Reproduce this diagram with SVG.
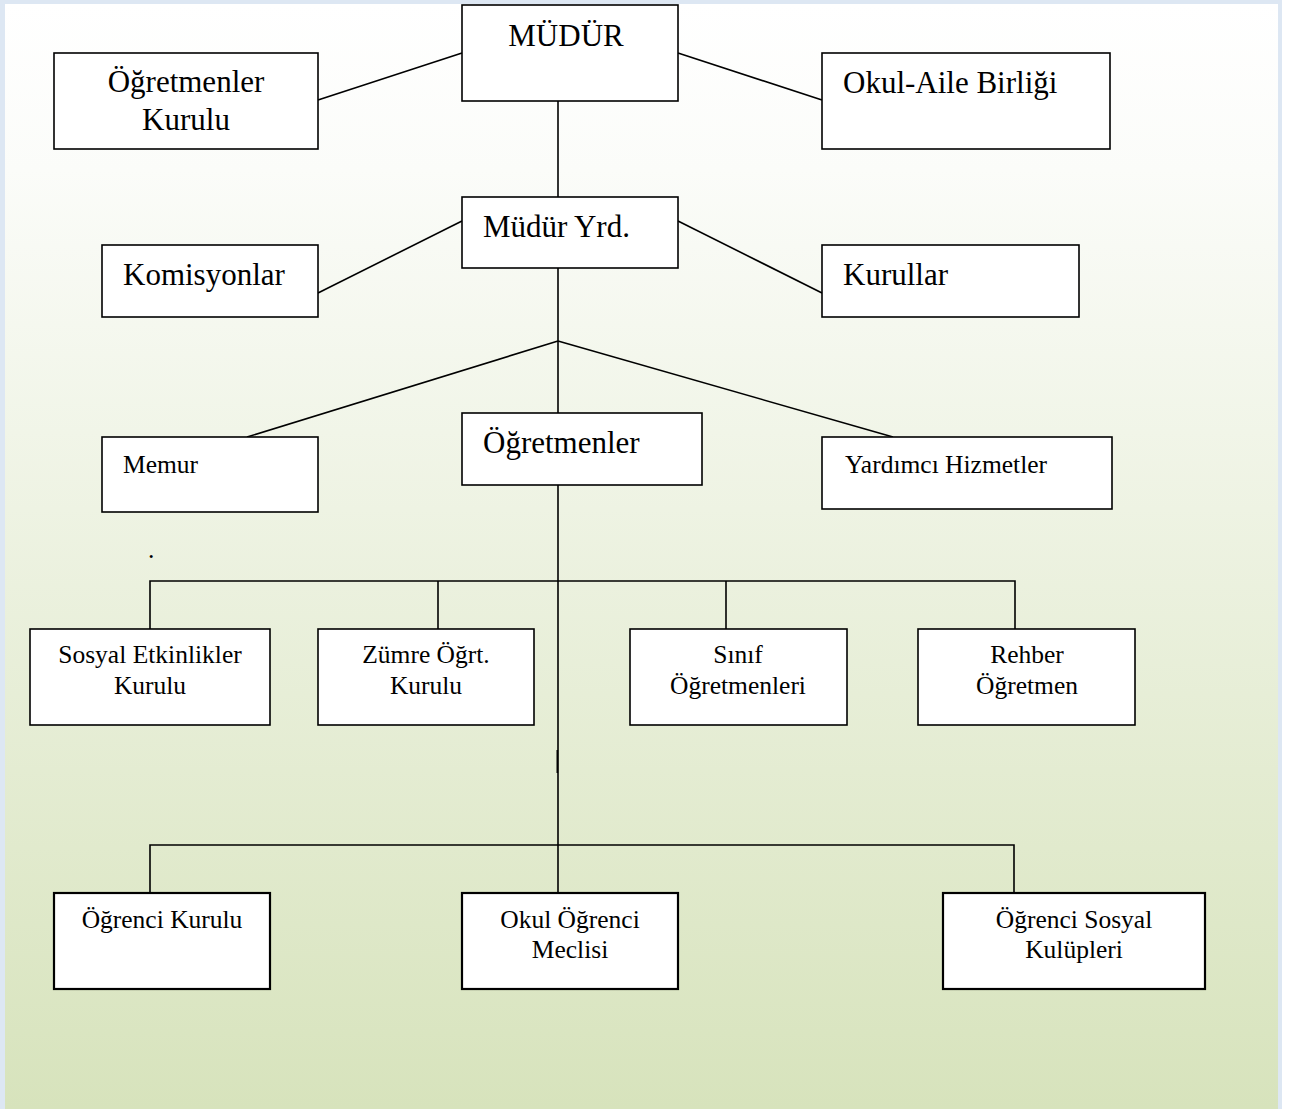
<svg xmlns="http://www.w3.org/2000/svg" width="1289" height="1109" viewBox="0 0 1289 1109">
  <defs>
    <linearGradient id="bg" x1="0" y1="0" x2="0" y2="1">
      <stop offset="0" stop-color="#ffffff"/>
      <stop offset="0.15" stop-color="#fbfcf9"/>
      <stop offset="1" stop-color="#d7e3bc"/>
    </linearGradient>
    <style>
      .box { fill: #ffffff; stroke: #000000; stroke-width: 1.6; }
      .box2 { fill: #ffffff; stroke: #000000; stroke-width: 2.2; }
      .con { stroke: #000000; stroke-width: 1.6; fill: none; }
      .big { font-family: "Liberation Serif", "Times New Roman", serif; font-size: 31px; fill: #000000; }
      .sm { font-family: "Liberation Serif", "Times New Roman", serif; font-size: 25.5px; fill: #000000; }
      .mid { text-anchor: middle; }
    </style>
  </defs>

  <rect x="0" y="0" width="1289" height="1109" fill="#ffffff"/>
  <rect x="0" y="0" width="1282" height="1109" fill="#dde7f3"/>
  <rect x="5" y="4" width="1273" height="1105" fill="url(#bg)"/>

  <g id="connectors">
    <line class="con" x1="462" y1="53" x2="318" y2="100"/>
    <line class="con" x1="678" y1="53" x2="822" y2="100"/>
    <line class="con" x1="558" y1="101" x2="558" y2="197"/>
    <line class="con" x1="462" y1="221" x2="318" y2="293"/>
    <line class="con" x1="678" y1="221" x2="822" y2="293"/>
    <line class="con" x1="558" y1="268" x2="558" y2="413"/>
    <line class="con" x1="558" y1="341" x2="247" y2="437"/>
    <line class="con" x1="558" y1="341" x2="893" y2="437"/>
    <line class="con" x1="558" y1="485" x2="558" y2="893"/>
    <line class="con" x1="557.3" y1="750" x2="557.3" y2="773" stroke-width="2.6"/>
    <polyline class="con" points="150,629 150,581 1015,581 1015,629"/>
    <line class="con" x1="438" y1="581" x2="438" y2="629"/>
    <line class="con" x1="726" y1="581" x2="726" y2="629"/>
    <polyline class="con" points="150,893 150,845 1014,845 1014,893"/>
  </g>

  <g id="mudur">
    <rect class="box" x="462" y="5" width="216" height="96"/>
    <text class="big mid" x="566" y="46">MÜDÜR</text>
  </g>
  <g id="ogretmenler-kurulu">
    <rect class="box" x="54" y="53" width="264" height="96"/>
    <text class="big mid" x="186" y="92">Öğretmenler</text>
    <text class="big mid" x="186" y="130">Kurulu</text>
  </g>
  <g id="okul-aile-birligi">
    <rect class="box" x="822" y="53" width="288" height="96"/>
    <text class="big" x="843" y="93">Okul-Aile Birliği</text>
  </g>
  <g id="mudur-yrd">
    <rect class="box" x="462" y="197" width="216" height="71"/>
    <text class="big" x="483" y="237">Müdür Yrd.</text>
  </g>
  <g id="komisyonlar">
    <rect class="box" x="102" y="245" width="216" height="72"/>
    <text class="big" x="123" y="285">Komisyonlar</text>
  </g>
  <g id="kurullar">
    <rect class="box" x="822" y="245" width="257" height="72"/>
    <text class="big" x="843" y="285">Kurullar</text>
  </g>
  <g id="memur">
    <rect class="box" x="102" y="437" width="216" height="75"/>
    <text class="sm" x="123" y="473">Memur</text>
  </g>
  <g id="ogretmenler">
    <rect class="box" x="462" y="413" width="240" height="72"/>
    <text class="big" x="483" y="453">Öğretmenler</text>
  </g>
  <g id="yardimci-hizmetler">
    <rect class="box" x="822" y="437" width="290" height="72"/>
    <text class="sm" x="845" y="473">Yardımcı Hizmetler</text>
  </g>
  <text class="sm" x="148" y="558" font-size="16">.</text>
  <g id="sosyal-etkinlikler-kurulu">
    <rect class="box" x="30" y="629" width="240" height="96"/>
    <text class="sm mid" x="150" y="663">Sosyal Etkinlikler</text>
    <text class="sm mid" x="150" y="694">Kurulu</text>
  </g>
  <g id="zumre-ogrt-kurulu">
    <rect class="box" x="318" y="629" width="216" height="96"/>
    <text class="sm mid" x="426" y="663">Zümre Öğrt.</text>
    <text class="sm mid" x="426" y="694">Kurulu</text>
  </g>
  <g id="sinif-ogretmenleri">
    <rect class="box" x="630" y="629" width="217" height="96"/>
    <text class="sm mid" x="738" y="663">Sınıf</text>
    <text class="sm mid" x="738" y="694">Öğretmenleri</text>
  </g>
  <g id="rehber-ogretmen">
    <rect class="box" x="918" y="629" width="217" height="96"/>
    <text class="sm mid" x="1027" y="663">Rehber</text>
    <text class="sm mid" x="1027" y="694">Öğretmen</text>
  </g>
  <g id="ogrenci-kurulu">
    <rect class="box2" x="54" y="893" width="216" height="96"/>
    <text class="sm mid" x="162" y="928">Öğrenci Kurulu</text>
  </g>
  <g id="okul-ogrenci-meclisi">
    <rect class="box2" x="462" y="893" width="216" height="96"/>
    <text class="sm mid" x="570" y="928">Okul Öğrenci</text>
    <text class="sm mid" x="570" y="958">Meclisi</text>
  </g>
  <g id="ogrenci-sosyal-kulupleri">
    <rect class="box2" x="943" y="893" width="262" height="96"/>
    <text class="sm mid" x="1074" y="928">Öğrenci Sosyal</text>
    <text class="sm mid" x="1074" y="958">Kulüpleri</text>
  </g>
</svg>
